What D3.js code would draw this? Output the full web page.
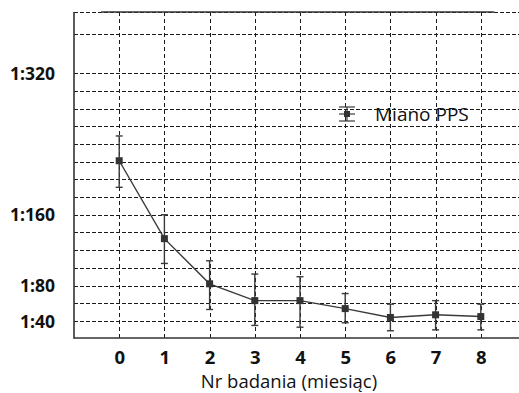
<!DOCTYPE html>
<html>
<head>
<meta charset="utf-8">
<script src="https://cdn.jsdelivr.net/npm/d3@7"></script>
<style>
  html, body { margin: 0; padding: 0; background: #fff; }
  svg { display: block; }
  text { font-family: "Open Sans", "Noto Sans", sans-serif; fill: #111; }
</style>
</head>
<body>
<svg id="chart" width="519" height="393"></svg>
<script>
// Study number (month)
const months = [0, 1, 2, 3, 4, 5, 6, 7, 8];
// Mean PPS titre (reciprocal) and error bar ends
const titreMean  = [221, 133, 82, 63, 63, 54, 44, 47, 45];
const titreUpper = [249, 160, 108, 93, 90, 71, 59, 63, 59];
const titreLower = [191, 105, 53, 35, 33, 38, 29, 30, 30];
// Labelled titres on the y axis
const yTickValues = [40, 80, 160, 320];
const yTickLabels = ["1:40", "1:80", "1:160", "1:320"];
// Horizontal grid lines
const gridValues = [40, 60, 80, 100, 120, 140, 160, 180, 200, 220, 240, 260, 280, 300, 320, 364, 389];
const seriesName = "Miano PPS";
const xTitle = "Nr badania (miesiąc)";

const svg = d3.select("#chart");
const W = 519, H = 393;
const plotLeft = 74, plotTop = 12, plotBottom = 338;
const tickFont = "'Open Sans', 'Noto Sans', sans-serif";

const x = d3.scaleLinear().domain([-1, 9]).range([plotLeft, plotLeft + 452]);
const y = d3.scaleLinear().domain([20.8, 389]).range([plotBottom, plotTop]);

// grid
const grid = svg.append("g").attr("stroke", "#1a1a1a").attr("stroke-width", 1);
grid.selectAll("line.h").data(gridValues).join("line")
  .attr("class", "h")
  .attr("x1", plotLeft).attr("x2", W)
  .attr("y1", d => Math.round(y(d)) + 0.5).attr("y2", d => Math.round(y(d)) + 0.5)
  .attr("stroke-dasharray", "4,2");
grid.selectAll("line.v").data(months).join("line")
  .attr("class", "v")
  .attr("y1", plotTop).attr("y2", plotBottom)
  .attr("x1", d => Math.round(x(d)) + 0.5).attr("x2", d => Math.round(x(d)) + 0.5)
  .attr("stroke-dasharray", "4,3");

// frame: left, bottom, partial top
const frame = svg.append("g").attr("stroke", "#333").attr("stroke-width", 1.6).attr("fill", "none");
frame.append("line").attr("x1", plotLeft).attr("x2", plotLeft).attr("y1", plotTop).attr("y2", plotBottom + 0.8);
frame.append("line").attr("x1", plotLeft).attr("x2", W).attr("y1", plotBottom).attr("y2", plotBottom);
frame.append("line").attr("x1", x(-0.4)).attr("x2", x(8.3)).attr("y1", plotTop).attr("y2", plotTop);

// y tick labels
const yAxis = d3.axisLeft(y).tickValues(yTickValues)
  .tickFormat((d, i) => yTickLabels[i]).tickSize(0).tickPadding(19);
svg.append("g").attr("transform", `translate(${plotLeft},0)`).call(yAxis)
  .call(g => g.select(".domain").remove())
  .call(g => g.selectAll("text").attr("font-size", 17.5).attr("font-weight", 700)
    .attr("font-family", tickFont).attr("fill", "#1a1a1a").attr("dy", "0.35em"));

// x tick labels
const xAxis = d3.axisBottom(x).tickValues(months).tickFormat(d3.format("d")).tickSize(0).tickPadding(13);
svg.append("g").attr("transform", `translate(0,${plotBottom})`).call(xAxis)
  .call(g => g.select(".domain").remove())
  .call(g => g.selectAll("text").attr("font-size", 18.5).attr("font-weight", 700)
    .attr("font-family", tickFont).attr("fill", "#1a1a1a"));

// x title
svg.append("text").attr("x", 289).attr("y", 388)
  .attr("text-anchor", "middle").attr("font-size", 18.5).text(xTitle);

// series
const data = months.map((m, i) => ({ m, v: titreMean[i], hi: titreUpper[i], lo: titreLower[i] }));
const ink = "#3a3a3a";
const errs = svg.append("g").attr("stroke", ink).attr("stroke-width", 1.4);
errs.selectAll("line.bar").data(data).join("line").attr("class", "bar")
  .attr("x1", d => x(d.m)).attr("x2", d => x(d.m)).attr("y1", d => y(d.hi)).attr("y2", d => y(d.lo));
errs.selectAll("line.capHi").data(data).join("line").attr("class", "capHi")
  .attr("x1", d => x(d.m) - 3.5).attr("x2", d => x(d.m) + 3.5).attr("y1", d => y(d.hi)).attr("y2", d => y(d.hi));
errs.selectAll("line.capLo").data(data).join("line").attr("class", "capLo")
  .attr("x1", d => x(d.m) - 3.5).attr("x2", d => x(d.m) + 3.5).attr("y1", d => y(d.lo)).attr("y2", d => y(d.lo));

const line = d3.line().x(d => x(d.m)).y(d => y(d.v));
svg.append("path").datum(data).attr("d", line)
  .attr("fill", "none").attr("stroke", ink).attr("stroke-width", 1.4);

svg.append("g").selectAll("rect").data(data).join("rect")
  .attr("x", d => x(d.m) - 3.5).attr("y", d => y(d.v) - 3.5)
  .attr("width", 7).attr("height", 7).attr("fill", "#333");

// legend
const lg = svg.append("g").attr("transform", "translate(347,114)");
const ls = lg.append("g").attr("stroke", ink).attr("stroke-width", 1.2);
ls.append("line").attr("x1", -8).attr("x2", 8).attr("y1", -7).attr("y2", -7);
ls.append("line").attr("x1", -8).attr("x2", 8).attr("y1", 7).attr("y2", 7);
ls.append("line").attr("x1", -8).attr("x2", 8).attr("y1", 0).attr("y2", 0);
ls.append("line").attr("x1", 0).attr("x2", 0).attr("y1", -7).attr("y2", 7);
lg.append("rect").attr("x", -3).attr("y", -3).attr("width", 6).attr("height", 6).attr("fill", "#333");
lg.append("text").attr("x", 28).attr("y", 0).attr("dy", "0.35em")
  .attr("font-size", 19).text(seriesName);
</script>
</body>
</html>
